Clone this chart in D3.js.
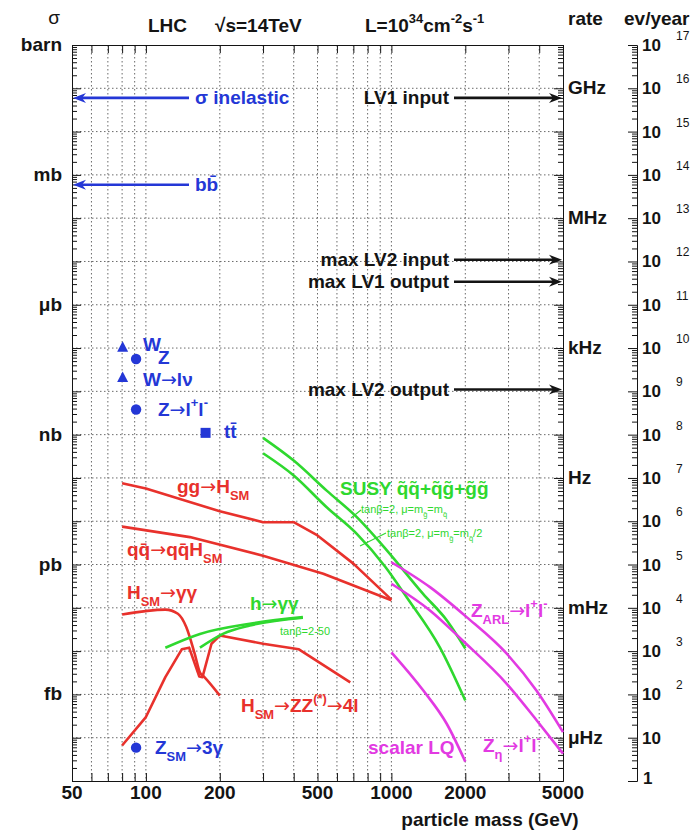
<!DOCTYPE html>
<html><head><meta charset="utf-8">
<script src="https://cdn.jsdelivr.net/npm/d3@7"></script>
<style>
body{margin:0;background:#fff;}
text{font-family:"Liberation Sans",Arial,Helvetica,sans-serif;}
tspan.ar{font-family:"DejaVu Sans",sans-serif;font-weight:normal;}
</style>
</head><body>
<svg id="c" width="697" height="831"></svg>
<script>
// ---------------- data ----------------
const massDomain = [50, 5000];          // GeV
const sigmaDomain = [1e-5, 1e12];       // pb
const xTickLabels = [50, 100, 200, 500, 1000, 2000, 5000];
const xGridValues = [60,70,80,90,100,200,300,400,500,600,700,800,900,1000,2000,3000,4000];
const sigmaUnitNames = ["barn", "mb", "\u03bcb", "nb", "pb", "fb"];
const sigmaUnitPb = [1e12, 1e9, 1e6, 1e3, 1, 1e-3];
const rateUnitNames = ["GHz", "MHz", "kHz", "Hz", "mHz", "\u03bcHz"];
const rateUnitHz = [1e9, 1e6, 1e3, 1, 1e-3, 1e-6];
const evYearExponents = [0,1,2,3,4,5,6,7,8,9,10,11,12,13,14,15,16,17];

// left arrows (cross sections, pb)
const leftArrowNames = ["\u03c3 inelastic", "bb\u0304"];
const leftArrowSigma = [6.0e10, 5.9e8];
// right arrows (trigger rates, Hz)
const rightArrowNames = ["LV1 input", "max LV2 input", "max LV1 output", "max LV2 output"];
const rightArrowRate = [6.0e8, 1.1e5, 3.4e4, 1.1e2];

// single points
const pointNames = ["W", "Z", "W\u2192l\u03bd", "Z\u2192l+l-", "ttbar", "Z_SM\u21923\u03b3"];
const pointMass = [80.4, 91.2, 80.4, 91.2, 175, 91.2];
const pointSigma = [1.05e5, 5.6e4, 2.1e4, 3.8e3, 1.1e3, 5.9e-5];
const pointShape = ["tri", "circ", "tri", "circ", "sq", "circ"];

// red curves
const ggH_mass = [80, 100, 200, 300, 400, 500, 700, 1000];
const ggH_sigma = [75, 57, 17, 9.5, 9.5, 4.7, 1.05, 0.155];
const qqH_mass = [80, 151, 300, 528, 1000];
const qqH_sigma = [7.5, 4.3, 1.6, 0.61, 0.15];
const Hgg_mass = [80, 120, 135, 146, 158, 166, 172, 200];
const Hgg_sigma = [0.070, 0.091, 0.073, 0.036, 8.7e-3, 3.2e-3, 2.6e-3, 9.4e-4];
const HZZ_mass = [80, 100, 120, 140, 150, 165, 170, 185, 200, 300, 420, 680];
const HZZ_sigma = [6.6e-5, 3.0e-4, 2.5e-3, 0.011, 0.012, 2.6e-3, 2.5e-3, 0.0148, 0.023, 0.0148, 0.011, 1.9e-3];

// green curves
const hgg_up_mass = [120, 166, 265, 436];
const hgg_up_sigma = [0.012, 0.025, 0.043, 0.061];
const hgg_lo_mass = [166, 206, 265, 436];
const hgg_lo_sigma = [0.012, 0.025, 0.039, 0.059];
const susy1_mass = [300, 400, 545, 723, 960, 1346, 1683, 2000];
const susy1_sigma = [844, 252, 51, 12.4, 2.1, 0.21, 0.051, 0.0115];
const susy2_mass = [300, 400, 545, 723, 942, 1158, 1577, 2000];
const susy2_sigma = [372, 114, 21, 5.1, 0.9, 0.17, 0.012, 7.2e-4];

// magenta curves
const zarl_mass = [1000, 1436, 2025, 2950, 3910, 5000];
const zarl_sigma = [1.13, 0.30, 0.061, 8.7e-3, 1.2e-3, 1.35e-4];
const zeta_mass = [1000, 1436, 1950, 2950, 3910, 5000];
const zeta_sigma = [0.36, 0.087, 0.0176, 1.76e-3, 2.5e-4, 4.3e-5];
const lq_mass = [1000, 1349, 1680, 2000];
const lq_sigma = [9.4e-3, 1.23e-3, 2.1e-4, 2.8e-5];

// ---------------- drawing ----------------
const RED = "#e8312c", GREEN = "#2fd82f", MAG = "#e23ae2", BLUE = "#2437d6", INK = "#141414";
const FS = 19;
const svg = d3.select("#c");
const L = 72, R = 563, T = 45, B = 781;
const x = d3.scaleLog().domain(massDomain).range([L, R]);
const y = d3.scaleLog().domain(sigmaDomain).range([B, T]);
const yEv = d3.scaleLog().domain([1, 1e17]).range([B, T]);
const rateToPb = r => r * 100;   // L=1e34 cm^-2 s^-1 : 1 pb -> 0.01 Hz

const decades = [], minors = [];
for (let e = -5; e <= 12; e++) {
  decades.push(Math.pow(10, e));
  if (e < 12) for (let k = 2; k <= 9; k++) minors.push(k * Math.pow(10, e));
}
const evDec = evYearExponents.map(e => Math.pow(10, e));
const evMin = [];
for (let e = 0; e < 17; e++) for (let k = 2; k <= 9; k++) evMin.push(k * Math.pow(10, e));

// grid
const grid = svg.append("g").attr("stroke", "#6a6a6a").attr("stroke-width", 1).attr("stroke-dasharray", "1.5,2.5");
grid.selectAll("line.v").data(xGridValues).join("line").attr("class", "v")
  .attr("x1", d => x(d)).attr("x2", d => x(d)).attr("y1", T).attr("y2", B);
grid.selectAll("line.h").data(decades.filter(d => d > 1e-5 && d < 1e12)).join("line").attr("class", "h")
  .attr("x1", L).attr("x2", R).attr("y1", d => y(d)).attr("y2", d => y(d));

// axes
function styleAxis(g) { g.selectAll("path,line").attr("stroke", INK).attr("stroke-width", 1); g.selectAll("text").remove(); }
svg.append("g").attr("transform", `translate(${L},0)`).call(d3.axisRight(y).tickValues(decades).tickSize(9).tickSizeOuter(0).tickFormat("")).call(styleAxis);
svg.append("g").attr("transform", `translate(${L},0)`).call(d3.axisRight(y).tickValues(minors).tickSize(5).tickSizeOuter(0).tickFormat("")).call(styleAxis);
svg.append("g").attr("transform", `translate(${R},0)`).call(d3.axisLeft(y).tickValues(decades).tickSize(9).tickSizeOuter(0).tickFormat("")).call(styleAxis);
svg.append("g").attr("transform", `translate(${R},0)`).call(d3.axisLeft(y).tickValues(minors).tickSize(5).tickSizeOuter(0).tickFormat("")).call(styleAxis);
svg.append("g").attr("transform", `translate(0,${B})`).call(d3.axisTop(x).tickValues(xGridValues.concat([50,5000])).tickSize(8).tickSizeOuter(0).tickFormat("")).call(styleAxis);
svg.append("g").attr("transform", `translate(0,${T})`).call(d3.axisBottom(x).tickValues(xGridValues.concat([50,5000])).tickSize(8).tickSizeOuter(0).tickFormat("")).call(styleAxis);
svg.append("g").attr("transform", `translate(637,0)`).call(d3.axisLeft(yEv).tickValues(evDec).tickSize(9).tickSizeOuter(0).tickFormat("")).call(styleAxis);
svg.append("g").attr("transform", `translate(637,0)`).call(d3.axisLeft(yEv).tickValues(evMin).tickSize(5).tickSizeOuter(0).tickFormat("")).call(styleAxis);

// text helpers
function txt(xp, yp, s, opt = {}) {
  return svg.append("text").attr("x", xp).attr("y", yp)
    .attr("font-size", opt.size || FS).attr("font-weight", opt.weight || "bold")
    .attr("fill", opt.fill || INK).attr("text-anchor", opt.anchor || "start").text(s);
}
// rich text: parts = [[string, "n"|"sub"|"sup"|"ar"]]
function rich(xp, yp, parts, opt = {}) {
  const fs = opt.size || FS;
  const t = svg.append("text").attr("x", xp).attr("y", yp)
    .attr("font-size", fs).attr("font-weight", opt.weight || "bold")
    .attr("fill", opt.fill || INK).attr("text-anchor", opt.anchor || "start");
  let cur = 0;
  parts.forEach(([s, k]) => {
    let target = k === "sub" ? fs * 0.35 : k === "sup" ? -fs * 0.45 : 0;
    const ts = t.append("tspan").attr("dy", target - cur).attr("font-size", (k === "n" || k === "ar") ? fs : fs * 0.68).text(s);
    if (k === "ar") ts.attr("class", "ar");
    cur = target;
  });
  return t;
}
const AR = ["\u2192", "ar"];

// axis labels
txt(54, 24, "\u03c3", {weight: "normal", anchor: "middle"});
sigmaUnitNames.forEach((n, i) => txt(62, y(sigmaUnitPb[i]) + 6, n, {anchor: "end"}));
rateUnitNames.forEach((n, i) => txt(568, y(rateToPb(rateUnitHz[i])) + 6, n));
evYearExponents.forEach(e => {
  const yp = yEv(Math.pow(10, e));
  if (e === 0) txt(643, yp + 3, "1", {size: 17});
  else {
    txt(642, yp + 6, "10", {size: 17});
    if (e > 1) txt(676, yp - 5, String(e), {size: 12, weight: "normal"});
  }
});
xTickLabels.forEach(v => txt(x(v), 799, String(v), {anchor: "middle"}));
txt(490, 826, "particle mass (GeV)", {anchor: "middle"});
txt(148, 32, "LHC");
txt(215, 32, "\u221as=14TeV");
rich(365, 32, [["L=10", "n"], ["34", "sup"], ["cm", "n"], ["-2", "sup"], ["s", "n"], ["-1", "sup"]]);
txt(568, 25, "rate");
txt(624, 25, "ev/year");

// arrows
function arrow(x1, x2, yp, color) {
  const dir = Math.sign(x2 - x1);
  svg.append("line").attr("x1", x1).attr("x2", x2 - dir * 8).attr("y1", yp).attr("y2", yp)
    .attr("stroke", color).attr("stroke-width", 2.6);
  svg.append("path").attr("d", `M${x2},${yp} L${x2 - dir * 13},${yp - 5} L${x2 - dir * 9},${yp} L${x2 - dir * 13},${yp + 5} Z`)
    .attr("fill", color);
}
leftArrowNames.forEach((n, i) => {
  const yp = y(leftArrowSigma[i]);
  arrow(189, L + 1, yp, BLUE);
  txt(195, yp + 6, n, {fill: BLUE});
});
rightArrowNames.forEach((n, i) => {
  const yp = y(rateToPb(rightArrowRate[i]));
  arrow(454, R - 1, yp, INK);
  txt(449, yp + 6, n, {anchor: "end"});
});

// curves
const line = d3.line().x(d => x(d[0])).y(d => y(d[1]));
function curve(m, s, color, smooth) {
  svg.append("path").datum(m.map((v, i) => [v, s[i]]))
    .attr("d", line.curve(smooth ? d3.curveMonotoneX : d3.curveLinear))
    .attr("fill", "none").attr("stroke", color).attr("stroke-width", 2.6).attr("stroke-linejoin", "round");
}
curve(ggH_mass, ggH_sigma, RED, false);
curve(qqH_mass, qqH_sigma, RED, false);
curve(Hgg_mass, Hgg_sigma, RED, true);
curve(HZZ_mass, HZZ_sigma, RED, false);
curve(hgg_up_mass, hgg_up_sigma, GREEN, true);
curve(hgg_lo_mass, hgg_lo_sigma, GREEN, true);
curve(susy1_mass, susy1_sigma, GREEN, true);
curve(susy2_mass, susy2_sigma, GREEN, true);
curve(zarl_mass, zarl_sigma, MAG, true);
curve(zeta_mass, zeta_sigma, MAG, true);
curve(lq_mass, lq_sigma, MAG, true);

// points
pointMass.forEach((m, i) => {
  const px = x(m), py = y(pointSigma[i]);
  if (pointShape[i] === "tri") svg.append("path").attr("d", `M${px},${py - 6} L${px + 5.5},${py + 4.5} L${px - 5.5},${py + 4.5} Z`).attr("fill", BLUE);
  else if (pointShape[i] === "circ") svg.append("circle").attr("cx", px).attr("cy", py).attr("r", 5.2).attr("fill", BLUE);
  else svg.append("rect").attr("x", px - 5).attr("y", py - 5).attr("width", 10).attr("height", 10).attr("fill", BLUE);
});

// point labels
txt(143, 351, "W", {fill: BLUE});
txt(158, 364, "Z", {fill: BLUE});
rich(143, 386, [["W", "n"], AR, ["l\u03bd", "n"]], {fill: BLUE});
rich(158, 416, [["Z", "n"], AR, ["l", "n"], ["+", "sup"], ["l", "n"], ["-", "sup"]], {fill: BLUE});
txt(224, 438, "tt\u0304", {fill: BLUE});
rich(155, 754, [["Z", "n"], ["SM", "sub"], AR, ["3", "n"], ["\u03b3", "n"]], {fill: BLUE});

// red labels
rich(177, 493, [["gg", "n"], AR, ["H", "n"], ["SM", "sub"]], {fill: RED});
rich(127, 556, [["qq\u0304", "n"], AR, ["qq\u0304H", "n"], ["SM", "sub"]], {fill: RED});
rich(127, 599, [["H", "n"], ["SM", "sub"], AR, ["\u03b3\u03b3", "n"]], {fill: RED});
rich(241, 712, [["H", "n"], ["SM", "sub"], AR, ["ZZ", "n"], ["(*)", "sup"], AR, ["4l", "n"]], {fill: RED});

// green labels
txt(340, 495, "SUSY q\u0303q\u0303+q\u0303g\u0303+g\u0303g\u0303", {fill: GREEN});
rich(361, 513, [["tan\u03b2=2, \u03bc=m", "n"], ["g\u0303", "sub"], ["=m", "n"], ["q\u0303", "sub"]], {fill: GREEN, size: 11, weight: "normal"});
rich(387, 537, [["tan\u03b2=2, \u03bc=m", "n"], ["g\u0303", "sub"], ["=m", "n"], ["q\u0303", "sub"], ["/2", "n"]], {fill: GREEN, size: 11, weight: "normal"});
svg.append("line").attr("x1", 361).attr("y1", 510).attr("x2", 351).attr("y2", 518).attr("stroke", GREEN).attr("stroke-width", 1.2);
svg.append("line").attr("x1", 386).attr("y1", 533).attr("x2", 360).attr("y2", 546).attr("stroke", GREEN).attr("stroke-width", 1.2);
rich(250, 610, [["h", "n"], AR, ["\u03b3\u03b3", "n"]], {fill: GREEN});
txt(280, 635, "tan\u03b2=2-50", {fill: GREEN, size: 11, weight: "normal"});

// magenta labels
rich(471, 617, [["Z", "n"], ["ARL", "sub"], AR, ["l", "n"], ["+", "sup"], ["l", "n"], ["-", "sup"]], {fill: MAG});
rich(483, 752, [["Z", "n"], ["\u03b7", "sub"], AR, ["l", "n"], ["+", "sup"], ["l", "n"], ["-", "sup"]], {fill: MAG});
txt(368, 754, "scalar LQ", {fill: MAG});
</script>
</body></html>
